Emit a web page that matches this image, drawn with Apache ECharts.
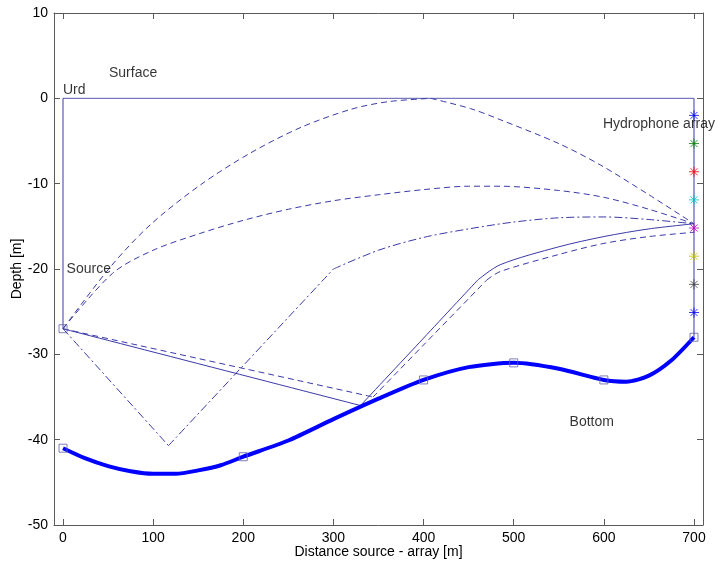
<!DOCTYPE html>
<html lang="en">
<head>
    <meta charset="UTF-8">
    <title>ray paths</title>
    <script src="https://cdn.jsdelivr.net/npm/echarts@6/dist/echarts.min.js"></script>
    <style type="text/css">
        html, body { margin: 0; padding: 0; background: #fff; }
        #main { width: 724px; height: 566px; }
    </style>
</head>
<body>
<div id="main"></div>
<script>
    // sea bottom profile (thick line)
    var bottomX = [0, 25, 50, 75, 100, 125, 150, 175, 200, 250, 300, 350, 400, 450, 500, 550, 600, 625, 650, 675, 700];
    var bottomY = [-41, -42.2, -43.1, -43.7, -44, -44, -43.6, -43, -42, -40.1, -37.6, -35.2, -33, -31.5, -31, -31.7, -33, -33.2, -32.5, -30.7, -28];
    // bottom nodes + source (squares)
    var nodeX = [0, 200, 400, 500, 600, 700, 0];
    var nodeY = [-41, -42, -33, -31, -33, -28, -27];

    // rays source -> array, corner = index of a reflection point
    var raySurfX = [0, 53, 97, 153, 208, 264, 319, 360, 408, 452, 485, 550, 596, 650, 700];
    var raySurfY = [-27, -19.7, -14.8, -10.1, -6.4, -3.4, -1.3, -0.4, 0, -1.2, -2.5, -5.3, -7.8, -11.3, -14.7];
    var raySurfCorners = [8];
    var rayMidX = [0, 55, 100, 153, 200, 250, 300, 350, 400, 450, 485, 550, 600, 650, 700];
    var rayMidY = [-27, -20.5, -17.8, -15.8, -14.3, -13, -12, -11.3, -10.7, -10.3, -10.3, -10.8, -11.6, -13, -14.7];
    var rayDotX = [0, 117, 300, 350, 400, 450, 500, 550, 600, 650, 700];
    var rayDotY = [-27, -40.7, -20, -17.8, -16.3, -15.3, -14.5, -14.0, -13.9, -14.2, -14.7];
    var rayDotCorners = [1, 2];
    var rayBotX = [0, 330, 400, 460, 485, 550, 600, 650, 700];
    var rayBotY = [-27, -36, -28.1, -21.3, -19.5, -17.4, -16.2, -15.3, -14.7];
    var rayBotCorners = [1, 3];
    var rayBot2X = [0, 344, 400, 470, 485, 550, 600, 650, 700];
    var rayBot2Y = [-27, -35, -28.9, -21.3, -20.3, -18.3, -17, -16.2, -15.7];
    var rayBot2Corners = [1, 3];

    // hydrophones
    var phoneY = [-2, -5.3, -8.6, -11.9, -15.2, -18.5, -21.8, -25.1];
    var phoneColors = ['#0000ff', '#008000', '#ff0000', '#00bfbf', '#bf00bf', '#bfbf00', '#404040', '#0000ff'];

    var notes = [
        {text: 'Surface', x: 51, y: 3},
        {text: 'Urd', x: 0, y: 1},
        {text: 'Source', x: 4, y: -20},
        {text: 'Hydrophone array', x: 599, y: -3},
        {text: 'Bottom', x: 562, y: -38}
    ];

    function pts(xs, ys) {
        return xs.map(function (x, i) { return [x, ys[i]]; });
    }

    var rayColor = '#3a3aa8';
    var axisColor = '#5a5a5a';
    var font = 'Liberation Sans, Arial, sans-serif';
    var tickLen = 6;

    var myChart = echarts.init(document.getElementById('main'));

    // one ray -> several smoothed pieces, broken at reflection points
    function raySeries(xs, ys, corners, type) {
        var cuts = [0].concat(corners || [], [xs.length - 1]);
        var out = [];
        for (var i = 0; i < cuts.length - 1; i++) {
            out.push({
                type: 'line', symbol: 'none', smooth: 0.3, silent: true, z: 3,
                data: pts(xs.slice(cuts[i], cuts[i + 1] + 1), ys.slice(cuts[i], cuts[i + 1] + 1)),
                lineStyle: {color: rayColor, width: 1, type: type}
            });
        }
        return out;
    }

    // box edge: line only
    function edgeAxis(extra) {
        return Object.assign({
            type: 'value',
            nameMoveOverlap: false,
            axisLine: {show: true, onZero: false, lineStyle: {color: axisColor, width: 1}},
            axisTick: {show: false},
            splitLine: {show: false}
        }, extra);
    }

    // ticks pointing into the box: an extra axis moved inward, ticks outward
    function tickAxis(extra) {
        return Object.assign({
            type: 'value',
            offset: -tickLen,
            z: 10,
            axisLine: {show: true, onZero: false, lineStyle: {color: 'rgba(0,0,0,0)'}},
            axisLabel: {show: false},
            axisTick: {show: true, inside: false, length: tickLen, lineStyle: {color: axisColor, width: 1}},
            splitLine: {show: false}
        }, extra);
    }

    var series = [
        {
            type: 'line', data: pts([0, 700], [0, 0]), symbol: 'none', silent: true,
            lineStyle: {color: '#5a5ab0', width: 1}
        },
        {
            type: 'line', data: pts([0, 0], [0, -27]), symbol: 'none', silent: true,
            lineStyle: {color: rayColor, width: 1}
        },
        {
            type: 'line', data: pts([700, 700], [0, -28]), symbol: 'none', silent: true,
            lineStyle: {color: rayColor, width: 1}
        }
    ];
    series = series.concat(
        raySeries(raySurfX, raySurfY, raySurfCorners, [6, 4]),
        raySeries(rayMidX, rayMidY, [], [6, 4]),
        raySeries(rayDotX, rayDotY, rayDotCorners, [8, 3, 2, 3]),
        raySeries(rayBotX, rayBotY, rayBotCorners, 'solid'),
        raySeries(rayBot2X, rayBot2Y, rayBot2Corners, [6, 4])
    );
    series.push(
        {
            type: 'line', data: pts(bottomX, bottomY), symbol: 'none', smooth: 0.25, silent: true,
            lineStyle: {color: '#0000ff', width: 4}, z: 4
        },
        {
            type: 'scatter', data: pts(nodeX, nodeY), symbol: 'rect', symbolSize: 8, silent: true,
            itemStyle: {color: 'rgba(0,0,0,0)', borderColor: '#6060a8', borderWidth: 1}, z: 5
        },
        {
            type: 'scatter', silent: true, symbolSize: 10, z: 6,
            symbol: 'path://M0,-5L0,5M-5,0L5,0M-3.5,-3.5L3.5,3.5M-3.5,3.5L3.5,-3.5',
            data: phoneY.map(function (y, i) {
                return {value: [700, y], itemStyle: {color: 'rgba(0,0,0,0)', borderColor: phoneColors[i], borderWidth: 1}};
            })
        },
        {
            type: 'scatter', silent: true, symbolSize: 0, z: 7,
            data: notes.map(function (n) {
                return {value: [n.x, n.y], name: n.text};
            }),
            label: {
                show: true, position: [0, 0], align: 'left', verticalAlign: 'middle',
                formatter: '{b}', color: '#000', fontSize: 14, fontFamily: font
            }
        }
    );

    var xRange = {min: -10, max: 710, splitNumber: 7};
    var yRange = {min: -50, max: 10, interval: 10};

    var option = {
        backgroundColor: '#fff',
        animation: false,
        grid: {left: 54, right: 21, top: 13, bottom: 41, containLabel: false, outerBoundsMode: 'none'},
        xAxis: [
            edgeAxis(Object.assign({
                position: 'bottom',
                name: 'Distance source - array [m]', nameLocation: 'middle', nameGap: 20,
                nameTextStyle: {color: '#000', fontSize: 14, fontFamily: font},
                axisLabel: {color: '#000', fontSize: 14, fontFamily: font, margin: 6}
            }, xRange)),
            edgeAxis(Object.assign({position: 'top', axisLabel: {show: false}}, xRange)),
            tickAxis(Object.assign({position: 'bottom'}, xRange)),
            tickAxis(Object.assign({position: 'top'}, xRange))
        ],
        yAxis: [
            edgeAxis(Object.assign({
                position: 'left',
                name: 'Depth [m]', nameLocation: 'middle', nameGap: 30,
                nameTextStyle: {color: '#000', fontSize: 14, fontFamily: font},
                axisLabel: {color: '#000', fontSize: 14, fontFamily: font, margin: 6}
            }, yRange)),
            edgeAxis(Object.assign({position: 'right', axisLabel: {show: false}}, yRange)),
            tickAxis(Object.assign({position: 'left'}, yRange)),
            tickAxis(Object.assign({position: 'right'}, yRange))
        ],
        series: series
    };
    myChart.setOption(option);
</script>
</body>
</html>
